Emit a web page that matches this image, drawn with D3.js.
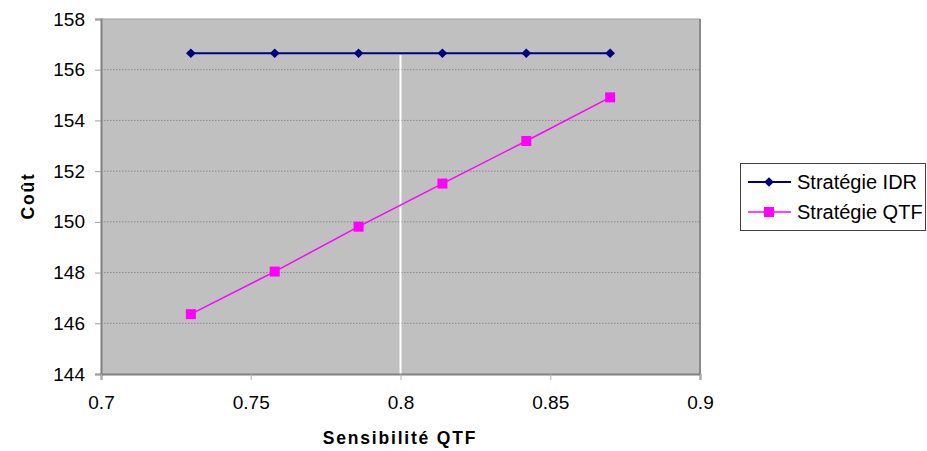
<!DOCTYPE html>
<html>
<head>
<meta charset="utf-8">
<script src="https://cdn.jsdelivr.net/npm/d3@7"></script>
<style>
  body { margin: 0; background: #fff; }
  svg { font-family: Arial, "Liberation Sans", sans-serif; }
</style>
</head>
<body>
<div id="chart"></div>
<script>
// data
const sensitivity = [0.73, 0.758, 0.786, 0.814, 0.842, 0.87];
const costIDR = [156.65, 156.65, 156.65, 156.65, 156.65, 156.65];
const costQTF = [146.36, 148.04, 149.81, 151.51, 153.19, 154.91];
const seriesNames = ['Stratégie IDR', 'Stratégie QTF'];
const xTicks = [0.7, 0.75, 0.8, 0.85, 0.9];
const yTicks = [144, 146, 148, 150, 152, 154, 156, 158];
const markerLine = { x: 0.8, top: 156.58 };

const width = 927, height = 451;
const margin = { top: 19, right: 227, bottom: 77, left: 101 };

const svg = d3.select('#chart').append('svg')
    .attr('width', width)
    .attr('height', height);

const x = d3.scaleLinear().domain([0.7, 0.9]).range([margin.left, width - margin.right]);
const y = d3.scaleLinear().domain([144, 158]).range([height - margin.bottom, margin.top]);

// plot area
svg.append('rect')
    .attr('x', x(0.7)).attr('y', y(158))
    .attr('width', x(0.9) - x(0.7)).attr('height', y(144) - y(158))
    .attr('fill', '#c0c0c0');

// dotted gridlines
svg.append('g')
    .selectAll('line')
    .data(yTicks.slice(1, -1))
    .join('line')
    .attr('x1', x(0.7)).attr('x2', x(0.9))
    .attr('y1', d => y(d)).attr('y2', d => y(d))
    .attr('stroke', '#8a8a8a')
    .attr('stroke-width', 1)
    .attr('stroke-dasharray', '1.5,1.5');

// borders
svg.append('line')
    .attr('x1', x(0.7)).attr('x2', x(0.9))
    .attr('y1', y(158)).attr('y2', y(158))
    .attr('stroke', '#a0a0a0').attr('stroke-width', 1);
svg.append('line')
    .attr('x1', x(0.9)).attr('x2', x(0.9))
    .attr('y1', y(158)).attr('y2', y(144))
    .attr('stroke', '#8a8a8a').attr('stroke-width', 2);

// white vertical line
svg.append('line')
    .attr('x1', x(markerLine.x)).attr('x2', x(markerLine.x))
    .attr('y1', y(markerLine.top)).attr('y2', y(144))
    .attr('stroke', '#ffffff').attr('stroke-width', 2);

// y axis
const yAxis = svg.append('g')
    .attr('transform', `translate(${x(0.7)},0)`)
    .call(d3.axisLeft(y).tickValues(yTicks).tickSize(6).tickPadding(10).tickFormat(d3.format('d')));
yAxis.select('.domain').attr('stroke', '#808080').attr('stroke-width', 2);
yAxis.selectAll('.tick line').attr('stroke', '#a0a0a0');
yAxis.selectAll('text').attr('font-size', '19px').attr('fill', '#000')
    .attr('font-family', 'Arial, "Liberation Sans", sans-serif');

// x axis
const xAxis = svg.append('g')
    .attr('transform', `translate(0,${y(144)})`)
    .call(d3.axisBottom(x).tickValues(xTicks).tickSize(6).tickPadding(16).tickFormat(d => d));
xAxis.select('.domain').attr('stroke', '#808080').attr('stroke-width', 2);
xAxis.selectAll('.tick line').attr('stroke', '#b0b0b0');
xAxis.selectAll('text').attr('font-size', '19px').attr('fill', '#000')
    .attr('font-family', 'Arial, "Liberation Sans", sans-serif');

// series
const line = d3.line().x(d => x(d[0])).y(d => y(d[1]));
const idr = sensitivity.map((s, i) => [s, costIDR[i]]);
const qtf = sensitivity.map((s, i) => [s, costQTF[i]]);

svg.append('path').datum(idr)
    .attr('d', line).attr('fill', 'none')
    .attr('stroke', '#000080').attr('stroke-width', 2);
svg.append('path').datum(qtf)
    .attr('d', line).attr('fill', 'none')
    .attr('stroke', '#ff00ff').attr('stroke-width', 1.5);

const diamond = d3.symbol().type(d3.symbolDiamond2).size(60);
svg.append('g').selectAll('path')
    .data(idr)
    .join('path')
    .attr('transform', d => `translate(${x(d[0])},${y(d[1])})`)
    .attr('d', diamond)
    .attr('fill', '#000080');

svg.append('g').selectAll('rect')
    .data(qtf)
    .join('rect')
    .attr('x', d => x(d[0]) - 5).attr('y', d => y(d[1]) - 5)
    .attr('width', 10).attr('height', 10)
    .attr('fill', '#ff00ff');

// axis titles
svg.append('text')
    .attr('x', 400).attr('y', 444)
    .attr('text-anchor', 'middle')
    .attr('font-size', '17.5px').attr('font-weight', 'bold')
    .attr('letter-spacing', '1.8px')
    .text('Sensibilité QTF');

svg.append('text')
    .attr('transform', 'translate(34,196) rotate(-90)')
    .attr('text-anchor', 'middle')
    .attr('font-size', '17.5px').attr('font-weight', 'bold')
    .attr('letter-spacing', '1.8px')
    .text('Coût');

// legend
const legend = svg.append('g');
legend.append('rect')
    .attr('x', 740.5).attr('y', 163.5)
    .attr('width', 185).attr('height', 67)
    .attr('fill', '#fff').attr('stroke', '#404040').attr('stroke-width', 1);

const colors = ['#000080', '#ff00ff'];
const rows = legend.selectAll('g.row')
    .data(seriesNames)
    .join('g')
    .attr('class', 'row')
    .attr('transform', (d, i) => `translate(0,${182 + i * 30})`);

rows.append('line')
    .attr('x1', 748).attr('x2', 791)
    .attr('stroke', (d, i) => colors[i])
    .attr('stroke-width', (d, i) => i === 0 ? 2 : 1.5);

rows.filter((d, i) => i === 0).append('path')
    .attr('transform', 'translate(769,0)')
    .attr('d', diamond)
    .attr('fill', colors[0]);
rows.filter((d, i) => i === 1).append('rect')
    .attr('x', 764).attr('y', -5).attr('width', 10).attr('height', 10)
    .attr('fill', colors[1]);

rows.append('text')
    .attr('x', 797).attr('dy', '0.35em')
    .attr('font-size', '20px')
    .text(d => d);
</script>
</body>
</html>
